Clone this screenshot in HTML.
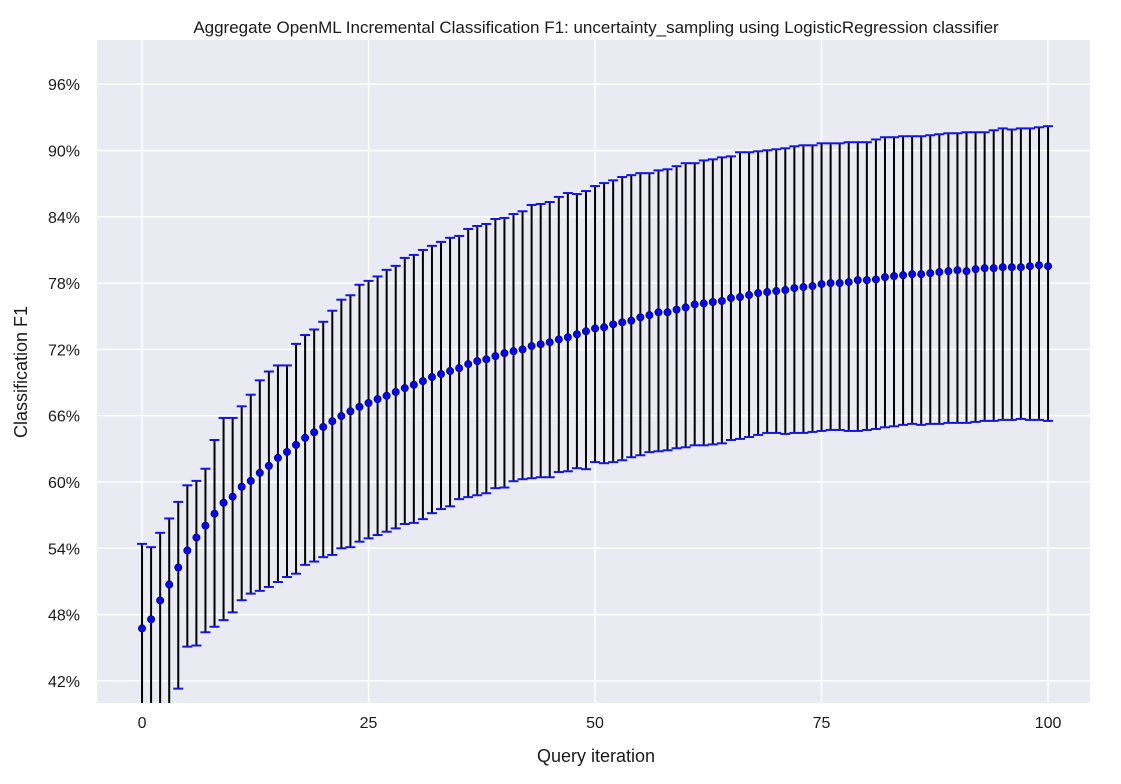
<!DOCTYPE html>
<html><head><meta charset="utf-8"><style>
body{margin:0;background:#fff;}
svg text{font-family:"Liberation Sans",sans-serif;fill:#1a1a1a;}
</style></head><body>
<svg id="chart" width="1121" height="779" xmlns="http://www.w3.org/2000/svg">
<rect x="97" y="40" width="993" height="663" fill="#EAEAF2"/>
<g id="grid"></g><g id="bars"></g><g id="axes"></g>
<text x="596" y="33" text-anchor="middle" font-size="17">Aggregate OpenML Incremental Classification F1: uncertainty_sampling using LogisticRegression classifier</text>
<text x="596" y="762" text-anchor="middle" font-size="18">Query iteration</text>
<text transform="translate(27,372) rotate(-90)" text-anchor="middle" font-size="18">Classification F1</text>
</svg>
<script>
const means=[46.75,47.57,49.28,50.72,52.26,53.8,54.97,56.05,57.13,58.12,58.67,59.57,60.1,60.83,61.46,62.18,62.72,63.36,64.0,64.5,64.98,65.5,65.97,66.4,66.8,67.15,67.5,67.8,68.15,68.5,68.8,69.13,69.5,69.77,70.04,70.3,70.67,70.94,71.1,71.39,71.66,71.84,72.0,72.3,72.47,72.65,72.9,73.1,73.37,73.64,73.9,74.0,74.27,74.45,74.6,74.9,75.1,75.36,75.36,75.6,75.8,76.07,76.16,76.29,76.38,76.65,76.74,76.92,77.1,77.19,77.28,77.37,77.55,77.64,77.73,77.91,78.0,78.0,78.09,78.27,78.27,78.33,78.54,78.63,78.72,78.81,78.81,78.9,79.0,79.08,79.17,79.08,79.26,79.35,79.35,79.44,79.44,79.44,79.53,79.62,79.53];
const uppers=[54.4,54.1,55.4,56.7,58.2,59.7,60.1,61.2,63.8,65.8,65.8,66.85,67.9,69.2,70.0,70.55,70.55,72.5,73.3,73.8,74.5,75.5,76.5,76.9,77.85,78.2,78.6,79.2,79.56,80.28,80.55,81.0,81.37,81.73,82.1,82.27,82.9,83.17,83.35,83.8,83.9,84.25,84.5,85.07,85.16,85.34,85.8,86.15,86.06,86.33,86.78,87.05,87.3,87.6,87.77,87.95,87.95,88.2,88.3,88.58,88.85,88.85,89.1,89.2,89.38,89.47,89.84,89.84,89.93,90.02,90.11,90.2,90.38,90.47,90.47,90.65,90.65,90.65,90.75,90.75,90.75,91.0,91.2,91.2,91.29,91.29,91.29,91.38,91.47,91.56,91.56,91.65,91.65,91.65,91.83,92.0,91.9,92.0,92.0,92.1,92.2];
const lowers=[36,37,38,39,41.3,45.1,45.2,46.4,46.9,47.5,48.2,49.3,49.9,50.15,50.5,50.95,51.4,51.7,52.5,52.8,53.2,53.4,54.0,54.1,54.6,54.9,55.2,55.5,55.8,56.2,56.3,56.64,57.18,57.55,57.8,58.45,58.63,58.8,58.98,59.44,59.5,60.07,60.25,60.34,60.43,60.43,60.9,60.97,61.25,61.16,61.8,61.7,61.8,61.97,62.24,62.42,62.7,62.78,62.87,63.05,63.14,63.32,63.32,63.4,63.5,63.8,63.9,64.07,64.26,64.44,64.44,64.35,64.44,64.44,64.53,64.62,64.71,64.71,64.62,64.62,64.71,64.8,64.95,65.04,65.17,65.26,65.17,65.26,65.26,65.35,65.35,65.35,65.44,65.53,65.53,65.62,65.62,65.71,65.62,65.62,65.53];
const xTicks=[0,25,50,75,100];
const yTicks=[42,48,54,60,66,72,78,84,90,96];
const X0=97,X1=1090,Y0=40,Y1=703,XMIN=-4.97,XMAX=104.63,YMIN=40,YMAX=100;
const xs=v=>X0+(v-XMIN)/(XMAX-XMIN)*(X1-X0);
const ys=v=>Y1-(v-YMIN)/(YMAX-YMIN)*(Y1-Y0);
const NS="http://www.w3.org/2000/svg";
function mk(t,a,p){const e=document.createElementNS(NS,t);for(const k in a)e.setAttribute(k,a[k]);p.appendChild(e);return e;}
const grid=document.getElementById('grid'),axes=document.getElementById('axes'),bars=document.getElementById('bars');
xTicks.forEach(t=>{
 const l=mk('line',{x1:xs(t),x2:xs(t),y1:Y0,y2:Y1,stroke:'#fff','stroke-width':1.5},grid);
 
 
 const tx=mk('text',{x:xs(t),y:Y1+25,'text-anchor':'middle','font-size':16},axes);tx.textContent=t;
 
 
});
yTicks.forEach(t=>{
 const l=mk('line',{x1:X0,x2:X1,y1:ys(t),y2:ys(t),stroke:'#fff','stroke-width':1.5},grid);
 
 
 const tx=mk('text',{x:X0-17,y:ys(t)+6,'text-anchor':'end','font-size':16},axes);tx.textContent=t+'%';
 
 
});
const clip=mk('clipPath',{id:'pc'},document.getElementById('chart'));
mk('rect',{x:X0,y:Y0,width:X1-X0,height:Y1-Y0},clip);
bars.setAttribute('clip-path','url(#pc)');
means.forEach((m,i)=>{
 const x=xs(i);
 const g=mk('g',{},bars);
 
 
 mk('line',{x1:x,x2:x,y1:ys(lowers[i]),y2:ys(uppers[i]),stroke:'#000','stroke-width':2},g);
 mk('line',{x1:x-5,x2:x+5,y1:ys(lowers[i]),y2:ys(lowers[i]),stroke:'#1515e0','stroke-width':2},g);
 mk('line',{x1:x-5,x2:x+5,y1:ys(uppers[i]),y2:ys(uppers[i]),stroke:'#1515e0','stroke-width':2},g);
});
means.forEach((m,i)=>{
 const c=mk('circle',{cx:xs(i),cy:ys(m),r:3.6,fill:'#0a0ad8',stroke:'#00008a','stroke-width':0.8},bars);
 
 
});
</script>
</body></html>
